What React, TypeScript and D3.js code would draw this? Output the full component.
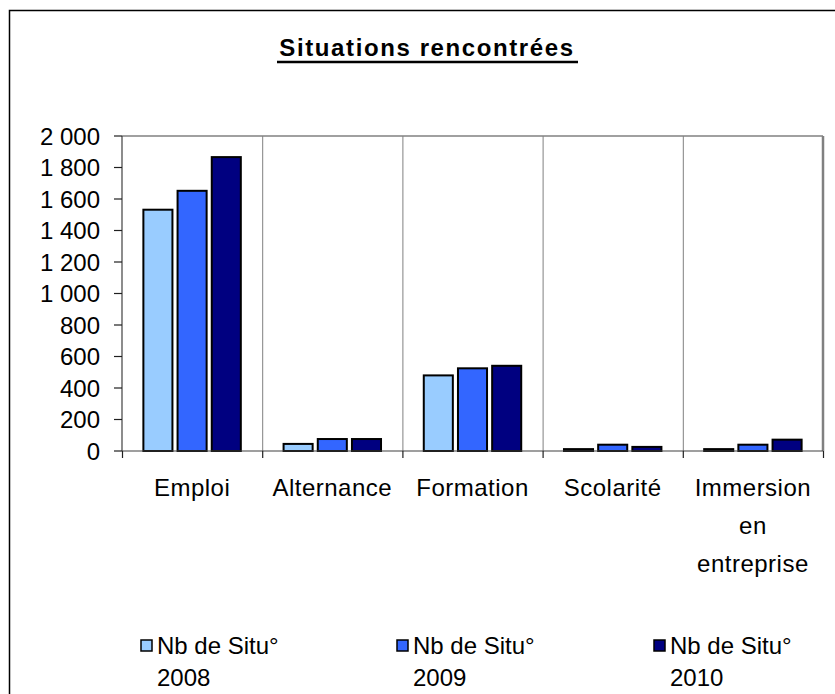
import React from "react";
import * as d3 from "d3";

const categories = ["Emploi", "Alternance", "Formation", "Scolarité", "Immersion en entreprise"];
const categoryLines = [["Emploi"], ["Alternance"], ["Formation"], ["Scolarité"], ["Immersion", "en", "entreprise"]];
const seriesNames = ["Nb de Situ° 2008", "Nb de Situ° 2009", "Nb de Situ° 2010"];
const legendLines = [["Nb de Situ°", "2008"], ["Nb de Situ°", "2009"], ["Nb de Situ°", "2010"]];
const values2008 = [1532, 45, 480, 12, 12];
const values2009 = [1652, 76, 525, 40, 40];
const values2010 = [1866, 76, 541, 26, 72];
const yTicks = [0, 200, 400, 600, 800, 1000, 1200, 1400, 1600, 1800, 2000];
const colors = ["#99CCFF", "#3366FF", "#000080"];

const FONT = "'Liberation Sans', Arial, sans-serif";

export default function App() {
  const left = 122, right = 823, top = 136, bottom = 451;
  const x0 = d3.scaleBand<string>().domain(categories).range([left, right]).padding(0);
  const bw = x0.bandwidth();
  const groupW = bw * 0.695;
  const off = (bw - groupW) / 2;
  const x1 = d3.scaleBand<string>().domain(seriesNames).range([off, off + groupW]).paddingInner(0.15).paddingOuter(0);
  const y = d3.scaleLinear().domain([0, 2000]).range([bottom, top]);
  const fmt = (v: number) => d3.format(",")(v).replace(/,/g, " ");
  const allSeries = [values2008, values2009, values2010];
  const boundaries = categories.map((c) => x0(c)!).concat([right]);

  const legendX = [141, 397, 654];

  return (
    <svg width={835} height={694} style={{ position: "absolute", left: 0, top: 0 }} fontFamily={FONT}>
      <rect x={0} y={0} width={835} height={694} fill="#fff" />
      <rect x={9.5} y={10.5} width={1000} height={1000} fill="none" stroke="#000" strokeWidth={1.5} />
      {/* title */}
      <text x={427} y={56} textAnchor="middle" fontSize={24} fontWeight="bold" letterSpacing={1.6}>
        Situations rencontrées
      </text>
      <line x1={277} x2={578} y1={62} y2={62} stroke="#000" strokeWidth={2.5} />
      {/* plot area border */}
      <line x1={left} x2={right} y1={top} y2={top} stroke="#808080" strokeWidth={1.5} />
      <line x1={right} x2={right} y1={top} y2={bottom} stroke="#808080" strokeWidth={2.5} />
      {/* vertical gridlines */}
      {boundaries.slice(1, -1).map((bx, i) => (
        <line key={i} x1={bx + 0.5} x2={bx + 0.5} y1={top} y2={bottom} stroke="#808080" strokeWidth={1} />
      ))}
      {/* bars */}
      {categories.map((c, ci) => (
        <g key={c} transform={`translate(${x0(c)},0)`}>
          {allSeries.map((s, si) => (
            <rect
              key={si}
              x={x1(seriesNames[si])!}
              y={y(s[ci])}
              width={x1.bandwidth()}
              height={bottom - y(s[ci])}
              fill={colors[si]}
              stroke="#000"
              strokeWidth={2}
            />
          ))}
        </g>
      ))}
      {/* y axis */}
      <line x1={left} x2={left} y1={top} y2={bottom} stroke="#404040" strokeWidth={1.2} />
      {yTicks.map((t) => (
        <g key={t}>
          <line x1={114} x2={left} y1={y(t)} y2={y(t)} stroke="#202020" strokeWidth={1.2} />
          <text x={100} y={y(t)} dy="0.36em" textAnchor="end" fontSize={24} fill="#000">
            {fmt(t)}
          </text>
        </g>
      ))}
      {/* x axis */}
      <line x1={left} x2={right} y1={bottom} y2={bottom} stroke="#404040" strokeWidth={1.2} />
      {boundaries.map((bx, i) => (
        <line key={i} x1={bx + 0.5} x2={bx + 0.5} y1={bottom} y2={bottom + 7} stroke="#202020" strokeWidth={1.2} />
      ))}
      {categories.map((c, ci) => (
        <text key={c} x={x0(c)! + bw / 2} y={496} textAnchor="middle" fontSize={24} letterSpacing={0.5}>
          {categoryLines[ci].map((ln, li) => (
            <tspan key={li} x={x0(c)! + bw / 2} dy={li === 0 ? 0 : 38}>
              {ln}
            </tspan>
          ))}
        </text>
      ))}
      {/* legend */}
      {seriesNames.map((s, si) => (
        <g key={s}>
          <rect x={legendX[si]} y={640} width={11} height={11} fill={colors[si]} stroke="#000" strokeWidth={1.5} />
          <text x={legendX[si] + 16} y={654} fontSize={24}>
            {legendLines[si][0]}
          </text>
          <text x={legendX[si] + 16} y={686} fontSize={24}>
            {legendLines[si][1]}
          </text>
        </g>
      ))}
    </svg>
  );
}
